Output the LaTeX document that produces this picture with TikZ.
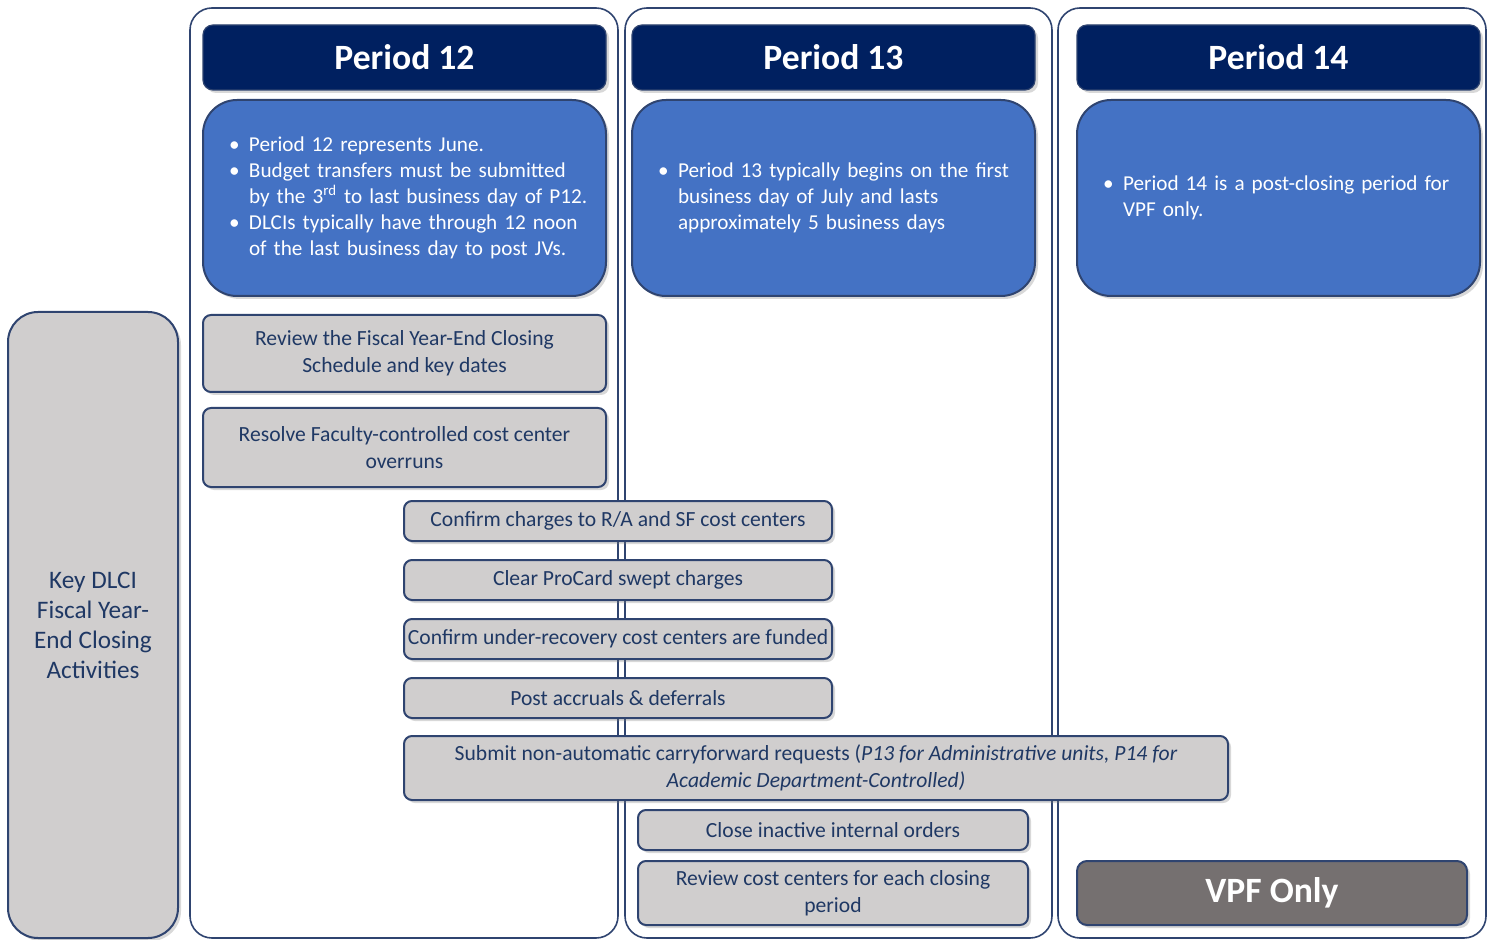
\documentclass[tikz,border=0pt]{standalone}
\usepackage{fontspec}
\setmainfont{Carlito}
\usetikzlibrary{positioning,shadows}

\definecolor{navyhead}{HTML}{002060}
\definecolor{bluebox}{HTML}{4472C4}
\definecolor{greybox}{HTML}{D0CECE}
\definecolor{vpfgrey}{HTML}{757070}
\definecolor{edgeblue}{HTML}{2F4470}
\definecolor{textnavy}{HTML}{1F3864}

\newcommand{\bul}{\makebox[10pt][l]{\textbullet}}
\newcommand{\cont}{\hspace*{10pt}}

\tikzset{
  softshadow/.style={drop shadow={shadow xshift=1.5pt, shadow yshift=-1.5pt, opacity=0.3}},
  column/.style={draw=edgeblue, line width=0.8pt, fill=white, rounded corners=11pt, inner sep=0pt},
  header/.style={fill=navyhead, draw=edgeblue, line width=0.6pt, rounded corners=5pt, text=white,
    font=\fontsize{17.8}{20}\selectfont\bfseries, minimum width=201.5pt, minimum height=32.5pt,
    inner sep=0pt, outer sep=0pt, softshadow},
  infobox/.style={fill=bluebox, draw=edgeblue, line width=1pt, rounded corners=17pt, text=white,
    font=\fontsize{10.6}{13}\selectfont, minimum width=201.5pt, minimum height=98pt,
    text width=175.5pt, align=left, inner sep=0pt, outer sep=0pt, softshadow},
  task/.style={fill=greybox, draw=edgeblue, line width=1pt, rounded corners=4pt, text=textnavy,
    font=\fontsize{10.8}{13.5}\selectfont, align=center, inner sep=0pt, outer sep=0pt, softshadow},
  keybox/.style={fill=greybox, draw=edgeblue, line width=1pt, rounded corners=15pt, text=textnavy,
    font=\fontsize{12.6}{15}\selectfont, align=center, inner sep=0pt, softshadow},
  vpfbox/.style={fill=vpfgrey, draw=edgeblue, line width=1pt, rounded corners=5pt, text=white,
    font=\fontsize{17.8}{20}\selectfont\bfseries, inner sep=0pt, softshadow}
}

\begin{document}
\begin{tikzpicture}[x=0.5pt, y=-0.5pt]
\path[use as bounding box] (0,0) rectangle (1491,940);

% period columns
\node[column, minimum width=214pt, minimum height=465pt] (col12) at (404,473) {};
\node[column, minimum width=213.5pt, minimum height=465pt] (col13) at (838.5,473) {};
\node[column, minimum width=214pt, minimum height=465pt] (col14) at (1272,473) {};

% left label
\node[keybox, minimum width=85pt, minimum height=313pt] (keyact) at (93,625)
  {Key DLCI\\Fiscal Year-\\End Closing\\Activities};

% headers
\node[header] (head12) at (404.5,57.5) {Period 12};
\node[header] (head13) at (833.5,57.5) {Period 13};
\node[header] (head14) at (1278.5,57.5) {Period 14};

% period notes
\node[infobox, below=5pt of head12] (info12)
  {\bul Period 12 represents June.\\
   \bul Budget transfers must be submitted\\
   \cont\mbox{by the 3\textsuperscript{rd} to last business day of P12.}\\
   \bul DLCIs typically have through 12 noon\\
   \cont of the last business day to post JVs.};
\node[infobox, below=5pt of head13] (info13)
  {\bul Period 13 typically begins on the first\\
   \cont business day of July and lasts\\
   \cont approximately 5 business days};
\node[infobox, below=5pt of head14] (info14)
  {\bul Period 14 is a post-closing period for\\
   \cont VPF only.};

% period 12 tasks
\node[task, minimum width=201.5pt, minimum height=38.5pt] (schedule) at (404.5,353.5)
  {Review the Fiscal Year-End Closing\\Schedule and key dates};
\node[task, minimum width=201.5pt, minimum height=39.5pt, below=8pt of schedule] (overruns)
  {Resolve Faculty-controlled cost center\\overruns};

% tasks across P12 and P13
\node[task, minimum width=214pt, minimum height=20pt] (charges) at (618,521)
  {Confirm charges to R/A and SF cost centers};
\node[task, minimum width=214pt, minimum height=20pt, below=9.5pt of charges] (procard)
  {Clear ProCard swept charges};
\node[task, minimum width=214pt, minimum height=20pt, below=9.5pt of procard] (underrec)
  {Confirm under-recovery cost centers are funded};
\node[task, minimum width=214pt, minimum height=20pt, below=9.5pt of underrec] (accruals)
  {Post accruals \& deferrals};
\node[task, minimum width=412pt, minimum height=32pt] (carryfwd) at (816,768)
  {Submit non-automatic carryforward requests (\textit{P13 for Administrative units, P14 for}\\
   \textit{Academic Department-Controlled)}};

% period 13 tasks
\node[task, minimum width=195pt, minimum height=20pt] (orders) at (833,830)
  {Close inactive internal orders};
\node[task, minimum width=195pt, minimum height=32pt] (costctr) at (833,893)
  {Review cost centers for each closing\\period};

% period 14
\node[vpfbox, minimum width=195pt, minimum height=32pt] (vpf) at (1272,893) {VPF Only};
\end{tikzpicture}
\end{document}
